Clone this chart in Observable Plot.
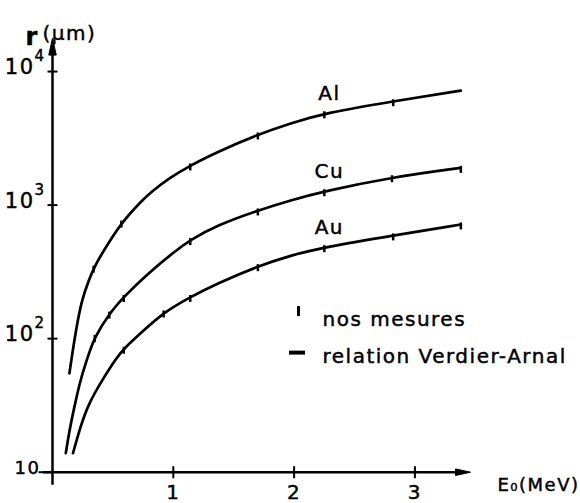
<!DOCTYPE html>
<html><head><meta charset="utf-8">
<script src="https://cdn.jsdelivr.net/npm/d3@7"></script>
<script src="https://cdn.jsdelivr.net/npm/@observablehq/plot@0.6"></script>
<style>
html,body{margin:0;padding:0;background:#fff;overflow:hidden}
#chart svg text{letter-spacing:1.5px;stroke:#000;stroke-width:0.45px}
</style></head><body><div id="chart"></div>
<script>
// ---- data (energy E0 in MeV, range r in µm) ----
const metals = ["Al", "Cu", "Au"];
const alE = [0.14, 0.16, 0.19, 0.24, 0.30, 0.35, 0.46, 0.58, 0.74, 0.81, 0.97, 1.14, 1.36, 1.70, 1.97, 2.25, 2.82, 3.38];
const alR = [55, 73, 110, 193, 273, 353, 516, 754, 1080, 1240, 1600, 1980, 2490, 3380, 4100, 4870, 5990, 7190];
const cuE = [0.11, 0.145, 0.19, 0.23, 0.30, 0.35, 0.47, 0.59, 0.77, 1.02, 1.14, 1.36, 1.70, 1.97, 2.25, 2.81, 3.38];
const cuR = [13.9, 21.8, 33.5, 48.8, 77, 103, 154, 205, 297, 457, 547, 705, 912, 1085, 1270, 1617, 1900];
const auE = [0.17, 0.23, 0.30, 0.41, 0.53, 0.59, 0.74, 0.92, 1.14, 1.36, 1.70, 1.97, 2.25, 2.82, 3.38];
const auR = [13.9, 21.8, 32.8, 48.8, 72, 84, 112, 157, 205, 258, 349, 420, 484, 593, 716];
// measurements ("nos mesures")
const alMesE = [0.34, 0.57, 1.14, 1.70, 2.25, 2.82];
const alMesR = [340, 740, 1980, 3380, 4870, 5990];
const cuMesE = [0.35, 0.47, 0.59, 1.14, 1.70, 2.25, 2.81, 3.38];
const cuMesR = [103, 154, 205, 547, 912, 1270, 1617, 1900];
const auMesE = [0.59, 0.92, 1.14, 1.70, 2.25, 2.82, 3.38];
const auMesR = [84, 157, 205, 349, 484, 593, 716];
// axes
const xTicks = [1, 2, 3];
const yTicks = [10, 100, 1000, 10000];
const yTickBase = ["10", "10", "10", "10"];
const yTickExp = ["", "2", "3", "4"];
const xDomain = [0, 3.46];
const yDomain = [10, 17800];
const xLabel = "E₀(MeV)";
const yLabelSymbol = "r";
const yLabelUnit = "(µm)";
const legendLabels = ["nos mesures", "relation Verdier-Arnal"];
const labelEnergy = 2.25;

// ---- tables ----
const series = {Al: [alE, alR, alMesE, alMesR], Cu: [cuE, cuR, cuMesE, cuMesR], Au: [auE, auR, auMesE, auMesR]};
const curves = metals.flatMap(m => series[m][0].map((E, i) => ({metal: m, E, r: series[m][1][i]})));
const mesures = metals.flatMap(m => series[m][2].map((E, i) => ({metal: m, E, r: series[m][3][i]})));

// ---- symbols ----
const rad = s => Math.sqrt(s / Math.PI);
const vbar = {draw(c, s) { const h = rad(s); c.moveTo(0, -h); c.lineTo(0, h); }};
const hbar = {draw(c, s) { const h = rad(s); c.moveTo(-h, 0); c.lineTo(h, 0); }};
const hang = {draw(c, s) { const h = rad(s); c.moveTo(0, -0.4 * h); c.lineTo(0, h); }};
const head = {draw(c, s) { const h = rad(s); c.moveTo(0, 0); c.lineTo(-0.22 * h, h); c.lineTo(0.22 * h, h); c.closePath(); }};

const F = "DejaVu Sans";
const chart = Plot.plot({
  width: 580, height: 503,
  marginLeft: 52, marginRight: 110, marginTop: 37.6, marginBottom: 31.3,
  style: {fontFamily: F, fontSize: "20px", color: "black", background: "white"},
  x: {domain: xDomain, axis: null},
  y: {type: "log", domain: yDomain, axis: null},
  marks: [
    // axes
    Plot.ruleY([yDomain[0]], {x1: -0.075, x2: xDomain[1] - 0.05, stroke: "black", strokeWidth: 2.5}),
    Plot.ruleX([xDomain[0]], {y1: 8, y2: yDomain[1] * 0.8, stroke: "black", strokeWidth: 2.5}),
    Plot.dot([xDomain[1]], {x: d => d, y: () => yDomain[0], symbol: head, r: 15, fill: "black", stroke: "black", strokeWidth: 1, rotate: 90}),
    Plot.dot([yDomain[1]], {x: () => xDomain[0], y: d => d, symbol: head, r: 17, fill: "black", stroke: "black", strokeWidth: 1}),
    Plot.dot(xTicks, {x: d => d, y: () => yDomain[0], symbol: vbar, r: 6, stroke: "black", strokeWidth: 2}),
    Plot.dot(yTicks.slice(1), {x: () => xDomain[0], y: d => d, symbol: hbar, r: 5, stroke: "black", strokeWidth: 2}),
    Plot.dot(yTicks.slice(0, 1), {x: () => xDomain[0], y: d => d, symbol: hbar, r: 7, dx: -7, stroke: "black", strokeWidth: 2}),
    Plot.text(xTicks, {x: d => d, y: () => yDomain[0], text: d => String(d), dy: 20, fontSize: 20}),
    Plot.text(yTicks.slice(0, 1), {x: () => xDomain[0], y: d => d, text: (d, i) => yTickBase[i], textAnchor: "end", dx: -12, dy: -4, fontSize: 18}),
    Plot.text(yTicks.slice(1), {x: () => xDomain[0], y: d => d, text: (d, i) => yTickBase[i + 1], textAnchor: "end", dx: -18, dy: -4, fontSize: 21}),
    Plot.text(yTicks.slice(1), {x: () => xDomain[0], y: d => d, text: (d, i) => yTickExp[i + 1], textAnchor: "start", dx: -18, dy: -15, fontSize: 15}),
    Plot.text([yLabelSymbol], {frameAnchor: "top-left", dx: -27, dy: -10, textAnchor: "start", fontSize: 24, fontWeight: "bold"}),
    Plot.text([yLabelUnit], {frameAnchor: "top-left", dx: -10, dy: -12, textAnchor: "start", fontSize: 20}),
    Plot.text([xLabel], {frameAnchor: "bottom-right", dx: 109, dy: 19, textAnchor: "end", fontSize: 18}),
    // curves (Verdier-Arnal relation)
    Plot.line(curves, {x: "E", y: "r", z: "metal", curve: "basis", stroke: "black", strokeWidth: 2.7}),
    // measurements
    Plot.dot(mesures, {x: "E", y: "r", symbol: hang, r: 5, stroke: "black", strokeWidth: 2.5}),
    Plot.text(mesures.filter(d => Math.abs(d.E - labelEnergy) < 0.01), {x: "E", y: "r", text: "metal", dx: 5, dy: -20, fontSize: 20}),
    // legend
    Plot.dot([legendLabels[0]], {frameAnchor: "top-left", dx: 246, dy: 273, symbol: vbar, r: 5, stroke: "black", strokeWidth: 3}),
    Plot.dot([legendLabels[1]], {frameAnchor: "top-left", dx: 244.5, dy: 314.5, symbol: hbar, r: 8, stroke: "black", strokeWidth: 4}),
    Plot.text([legendLabels[0]], {frameAnchor: "top-left", dx: 270, dy: 274, textAnchor: "start", fontSize: 20}),
    Plot.text([legendLabels[1]], {frameAnchor: "top-left", dx: 270, dy: 311, textAnchor: "start", fontSize: 20})
  ]
});
document.getElementById("chart").appendChild(chart);
</script></body></html>
